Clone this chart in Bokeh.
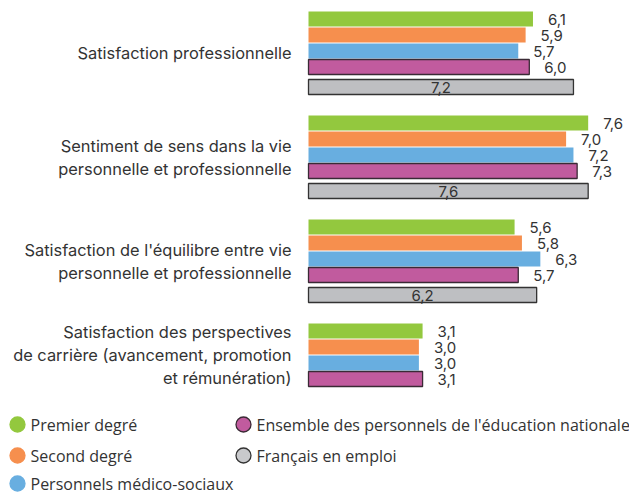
from bokeh.plotting import figure
from bokeh.models import Range1d, ColumnDataSource
from bokeh.core.properties import value
from bokeh.embed import file_html
from bokeh.resources import INLINE

# ---- data ----
categories = [
    ["Satisfaction professionnelle"],
    ["Sentiment de sens dans la vie", "personnelle et professionnelle"],
    ["Satisfaction de l'équilibre entre vie", "personnelle et professionnelle"],
    ["Satisfaction des perspectives", "de carrière (avancement, promotion", "et rémunération)"],
]
series_names = [
    "Premier degré",
    "Second degré",
    "Personnels médico-sociaux",
    "Ensemble des personnels de l'éducation nationale",
    "Français en emploi",
]
premier_degre = [6.1, 7.6, 5.6, 3.1]
second_degre = [5.9, 7.0, 5.8, 3.0]
medico_sociaux = [5.7, 7.2, 6.3, 3.0]
ensemble_en = [6.0, 7.3, 5.7, 3.1]
francais_emploi = [7.2, 7.6, 6.2, None]

colors = ["#93C83E", "#F68F4E", "#68AEE0", "#C15B9E", "#BEBFC2"]
borders = [None, None, None, "#3a2a35", "#333333"]
legend_fill = ["#93C83E", "#F68F4E", "#68AEE0", "#C15B9E", "#C8C9CC"]

W, H = 629, 494
PX = 36.8          # pixels per unit
X0 = 308           # pixel position of zero
GROUP_TOP = 11
GROUP_STEP = 104
BAR_STEP = 16
BAR_H = 15
GRAY_OFF = 68

def px_x(px):
    return (px - X0) / PX

p = figure(width=W, height=H, output_backend="svg", toolbar_location=None,
           x_range=Range1d(px_x(0), px_x(W)), y_range=Range1d(H, 0),
           min_border=0, outline_line_color=None)
p.axis.visible = False
p.grid.visible = False
p.background_fill_color = "white"
p.border_fill_color = "white"

FONT = value("Inter")
TXT = "#333333"

all_series = [premier_degre, second_degre, medico_sociaux, ensemble_en, francais_emploi]

def fmt(v):
    return f"{v:.1f}".replace(".", ",")

for j, vals in enumerate(all_series):
    ys, rs, labs = [], [], []
    for i, v in enumerate(vals):
        if v is None:
            continue
        off = GRAY_OFF if j == 4 else BAR_STEP * j
        ys.append(GROUP_TOP + GROUP_STEP * i + off + BAR_H / 2)
        rs.append(v)
        labs.append(fmt(v))
    src = ColumnDataSource(dict(y=ys, right=rs, lab=labs, half=[r / 2 for r in rs]))
    kw = dict(line_color=borders[j], line_width=1.3) if borders[j] else dict(line_color=None)
    p.hbar(y="y", left=0, right="right", height=BAR_H, fill_color=colors[j], source=src, **kw)
    if j < 4:
        p.text(x="right", y="y", text="lab", source=src, x_offset=15, text_align="left",
               text_baseline="middle", text_font=FONT, text_font_size="15px", text_color=TXT)
    else:
        p.text(x="half", y="y", text="lab", source=src, text_align="center",
               text_baseline="middle", text_font=FONT, text_font_size="15px", text_color=TXT)

# category labels
LINE_H = 23
for i, lines in enumerate(categories):
    n_bars = 5 if francais_emploi[i] is not None else 4
    top = GROUP_TOP + GROUP_STEP * i
    bottom = top + (GRAY_OFF + BAR_H if n_bars == 5 else BAR_STEP * 3 + BAR_H)
    center = (top + bottom) / 2
    ys = [center + (k - (len(lines) - 1) / 2) * LINE_H for k in range(len(lines))]
    p.text(x=[0] * len(lines), y=ys, text=lines, x_offset=-17, text_align="right",
           text_baseline="middle", text_font=FONT, text_font_size="16.4px", text_color=TXT)

# legend (two columns, column-major)
leg_cols_px = [17, 243]
leg_rows = [424, 455, 483]
for k, name in enumerate(series_names):
    c, r = divmod(k, 3)
    cx = px_x(leg_cols_px[c])
    cy = leg_rows[r]
    lc = borders[k] if borders[k] else legend_fill[k]
    p.scatter(x=[cx], y=[cy], size=15, marker="circle", fill_color=legend_fill[k],
              line_color=lc, line_width=1.3)
    p.text(x=[cx], y=[cy], text=[name], x_offset=13, text_align="left", text_baseline="middle",
           text_font=value("Open Sans"), text_font_size="16px", text_color=TXT)

open("out.html", "w").write(file_html(p, INLINE))
